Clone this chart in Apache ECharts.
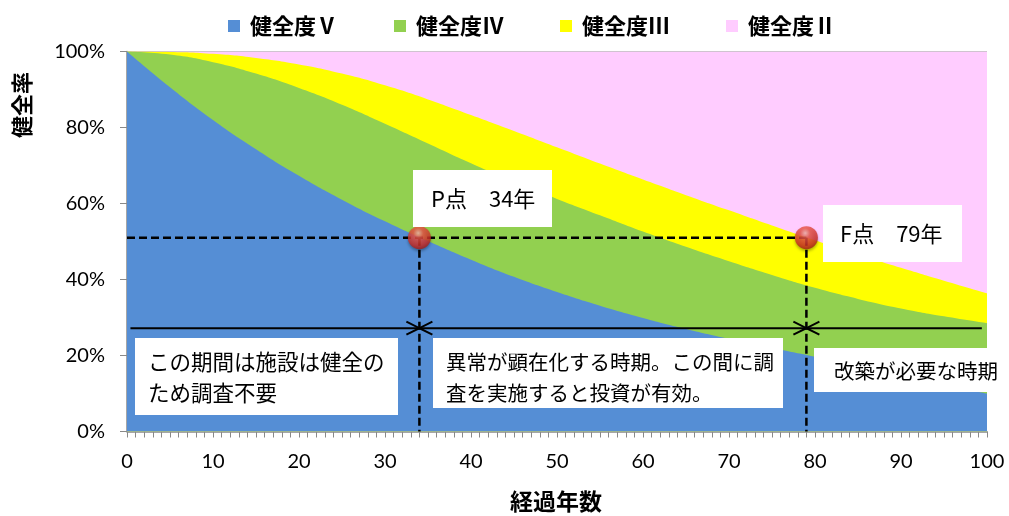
<!DOCTYPE html>
<html>
<head>
<meta charset="utf-8">
<script src="https://cdn.jsdelivr.net/npm/echarts@6/dist/echarts.min.js"></script>
<style>
  html, body { margin: 0; padding: 0; background: #fff; }
  #chart { width: 1009px; height: 516px; }
</style>
</head>
<body>
<div id="chart"></div>
<script>
// 経過年数
const years = [0, 5, 10, 15, 20, 25, 30, 35, 40, 45, 50, 55, 60, 65, 70, 75, 80, 85, 90, 95, 100];
// 各健全度の上端（累積の健全率 %）
const healthV   = [100, 90.6, 82.0, 74.3, 67.3, 61.0, 55.3, 50.1, 45.2, 40.7, 36.7, 33.1, 29.9, 27.0, 24.4, 22.0, 19.7, 17.2, 14.8, 12.4, 10.0];
const healthIV  = [100, 99.2, 97.2, 94.2, 90.4, 86.0, 81.0, 75.8, 70.6, 65.7, 61.2, 56.9, 52.6, 48.6, 44.8, 41.2, 37.8, 34.9, 32.4, 30.3, 28.5];
const healthIII = [100, 99.9, 99.4, 98.3, 96.6, 94.2, 91.1, 87.4, 83.3, 79.1, 74.8, 70.5, 66.3, 62.2, 58.2, 54.2, 50.3, 46.6, 43.1, 39.7, 36.4];
const healthII  = [100, 100, 100, 100, 100, 100, 100, 100, 100, 100, 100, 100, 100, 100, 100, 100, 100, 100, 100, 100, 100];

const seriesNames = ['健全度Ⅴ', '健全度Ⅳ', '健全度Ⅲ', '健全度Ⅱ'];
const xTicks = [0, 10, 20, 30, 40, 50, 60, 70, 80, 90, 100];
const yTicks = [0, 20, 40, 60, 80, 100];

// P点・F点（年, 健全率 %）
const pointNames = ['P点', 'F点'];
const pointYears = [34, 79];
const pointRate = 51;
// 期間区分の矢印線（健全率 %）と両端の年
const periodRate = 27.2;
const periodEnds = [0.4, 99.4];

const periodTexts = [
  'この期間は施設は健全の\nため調査不要',
  '異常が顕在化する時期。この間に調\n査を実施すると投資が有効。',
  '改築が必要な時期'
];

const pairs = arr => years.map((y, i) => [y, arr[i]]);
const colors = { V: '#558ED5', IV: '#92D050', III: '#FFFF00', II: '#FFCCFF' };

function areaSeries(name, data, color) {
  return {
    name, type: 'line', data: pairs(data), smooth: 0.5,
    showSymbol: false, symbol: 'none',
    lineStyle: { width: 0, color },
    itemStyle: { color },
    areaStyle: { color, opacity: 1 },
    emphasis: { disabled: true },
    silent: true, animation: false
  };
}

const jp = '"Noto Sans CJK JP", "Noto Sans", sans-serif';

function renderGuides(params, api) {
  const children = [];
  const dash = { stroke: '#000', lineWidth: 2.5, lineDash: [8, 4], fill: null };
  const pL = api.coord([0, pointRate]);
  const pF = api.coord([pointYears[1], pointRate]);
  children.push({ type: 'line', shape: { x1: pL[0], y1: pL[1], x2: pF[0], y2: pF[1] }, style: dash });
  pointYears.forEach(yr => {
    const top = api.coord([yr, pointRate]);
    const bot = api.coord([yr, 0]);
    children.push({ type: 'line', shape: { x1: top[0], y1: top[1], x2: bot[0], y2: bot[1] }, style: dash });
  });
  const solid = { stroke: '#000', lineWidth: 2, fill: null };
  const a = api.coord([periodEnds[0], periodRate]);
  const b = api.coord([periodEnds[1], periodRate]);
  children.push({ type: 'line', shape: { x1: a[0], y1: a[1], x2: b[0], y2: b[1] }, style: solid });
  pointYears.forEach(yr => {
    const c = api.coord([yr, periodRate]);
    children.push({ type: 'polyline', shape: { points: [[c[0] - 13, c[1] - 6.5], [c[0], c[1]], [c[0] - 13, c[1] + 6.5]] }, style: solid });
    children.push({ type: 'polyline', shape: { points: [[c[0] + 13, c[1] - 6.5], [c[0], c[1]], [c[0] + 13, c[1] + 6.5]] }, style: solid });
  });
  return { type: 'group', children };
}

function textBox(x, y, w, h, text, tx, ty, size, lineHeight) {
  return [
    { type: 'rect', z: 100, zlevel: 1, shape: { x, y, width: w, height: h }, style: { fill: '#fff' } },
    { type: 'text', z: 101, zlevel: 1, x: tx, y: ty,
      style: { text, font: size + 'px ' + jp, fill: '#000', verticalAlign: 'middle', lineHeight: lineHeight || 26 } }
  ];
}

const chart = echarts.init(document.getElementById('chart'), null, { renderer: 'canvas' });
chart.setOption({
  backgroundColor: '#fff',
  animation: false,
  grid: { left: 127, right: 22, top: 51.5, bottom: 84.5, containLabel: false },
  legend: {
    data: seriesNames,
    left: 223, top: 10,
    itemWidth: 12, itemHeight: 12, itemGap: 56,
    icon: 'rect',
    textStyle: { fontFamily: jp, fontSize: 22, fontWeight: 'bold', color: '#000', padding: [0, 0, 0, 5] },
    selectedMode: false
  },
  xAxis: {
    type: 'value', min: 0, max: 100, interval: 10,
    axisLine: { show: true, lineStyle: { color: '#898989', width: 1.5 } },
    axisTick: { show: true, length: 6, lineStyle: { color: '#898989' } },
    minorTick: { show: true, splitNumber: 10, length: 6, lineStyle: { color: '#898989' } },
    splitLine: { show: false },
    axisLabel: {
      margin: 20, color: '#000', fontFamily: 'Lato, sans-serif', fontSize: 20,
      formatter: v => xTicks.includes(v) ? String(v) : ''
    }
  },
  yAxis: {
    type: 'value', min: 0, max: 100, interval: 20,
    axisLine: { show: true, lineStyle: { color: '#898989', width: 1.5 } },
    axisTick: { show: true, length: 7, lineStyle: { color: '#898989' } },
    splitLine: { show: true, lineStyle: { color: '#C0C0C0', width: 1 } },
    axisLabel: {
      margin: 22, color: '#000', fontFamily: 'Lato, sans-serif', fontSize: 20,
      formatter: v => yTicks.includes(v) ? v + '%' : ''
    }
  },
  series: [
    areaSeries(seriesNames[3], healthII, colors.II),
    areaSeries(seriesNames[2], healthIII, colors.III),
    areaSeries(seriesNames[1], healthIV, colors.IV),
    areaSeries(seriesNames[0], healthV, colors.V),
    {
      type: 'custom', coordinateSystem: 'cartesian2d',
      data: [[0, 0]], renderItem: renderGuides, silent: true, z: 5, clip: false
    },
    {
      type: 'scatter', z: 10, silent: true,
      data: pointYears.map(y => [y, pointRate]),
      symbol: 'circle', symbolSize: 23,
      itemStyle: {
        color: {
          type: 'radial', x: 0.45, y: 0.3, r: 0.72,
          colorStops: [
            { offset: 0, color: '#FBB8AF' },
            { offset: 0.3, color: '#EE5548' },
            { offset: 0.75, color: '#CF2E26' },
            { offset: 1, color: '#9E1A15' }
          ]
        },
        shadowBlur: 3, shadowColor: 'rgba(0,0,0,0.4)', shadowOffsetY: 2
      }
    }
  ],
  graphic: [
    {
      type: 'text', z: 100, x: 22, y: 105, rotation: Math.PI / 2,
      style: { text: '健全率', font: 'bold 22px ' + jp, fill: '#000', align: 'center', verticalAlign: 'middle' }
    },
    {
      type: 'text', z: 100, x: 556, y: 501,
      style: { text: '経過年数', font: 'bold 23px ' + jp, fill: '#000', align: 'center', verticalAlign: 'middle' }
    },
    ...textBox(413, 170, 139, 57, pointNames[0] + '　' + pointYears[0] + '年', 431, 198.5, 22),
    ...textBox(823, 205, 139, 57, pointNames[1] + '　' + pointYears[1] + '年', 840, 233.5, 22),
    ...textBox(135, 338, 263, 77, periodTexts[0], 148, 377.5, 21.5, 31.5),
    ...textBox(433, 338, 350, 70, periodTexts[1], 446, 377.5, 20.5, 31.5),
    ...textBox(814, 348, 173, 44, periodTexts[2], 834, 371.5, 20.5)
  ]
});
</script>
</body>
</html>
